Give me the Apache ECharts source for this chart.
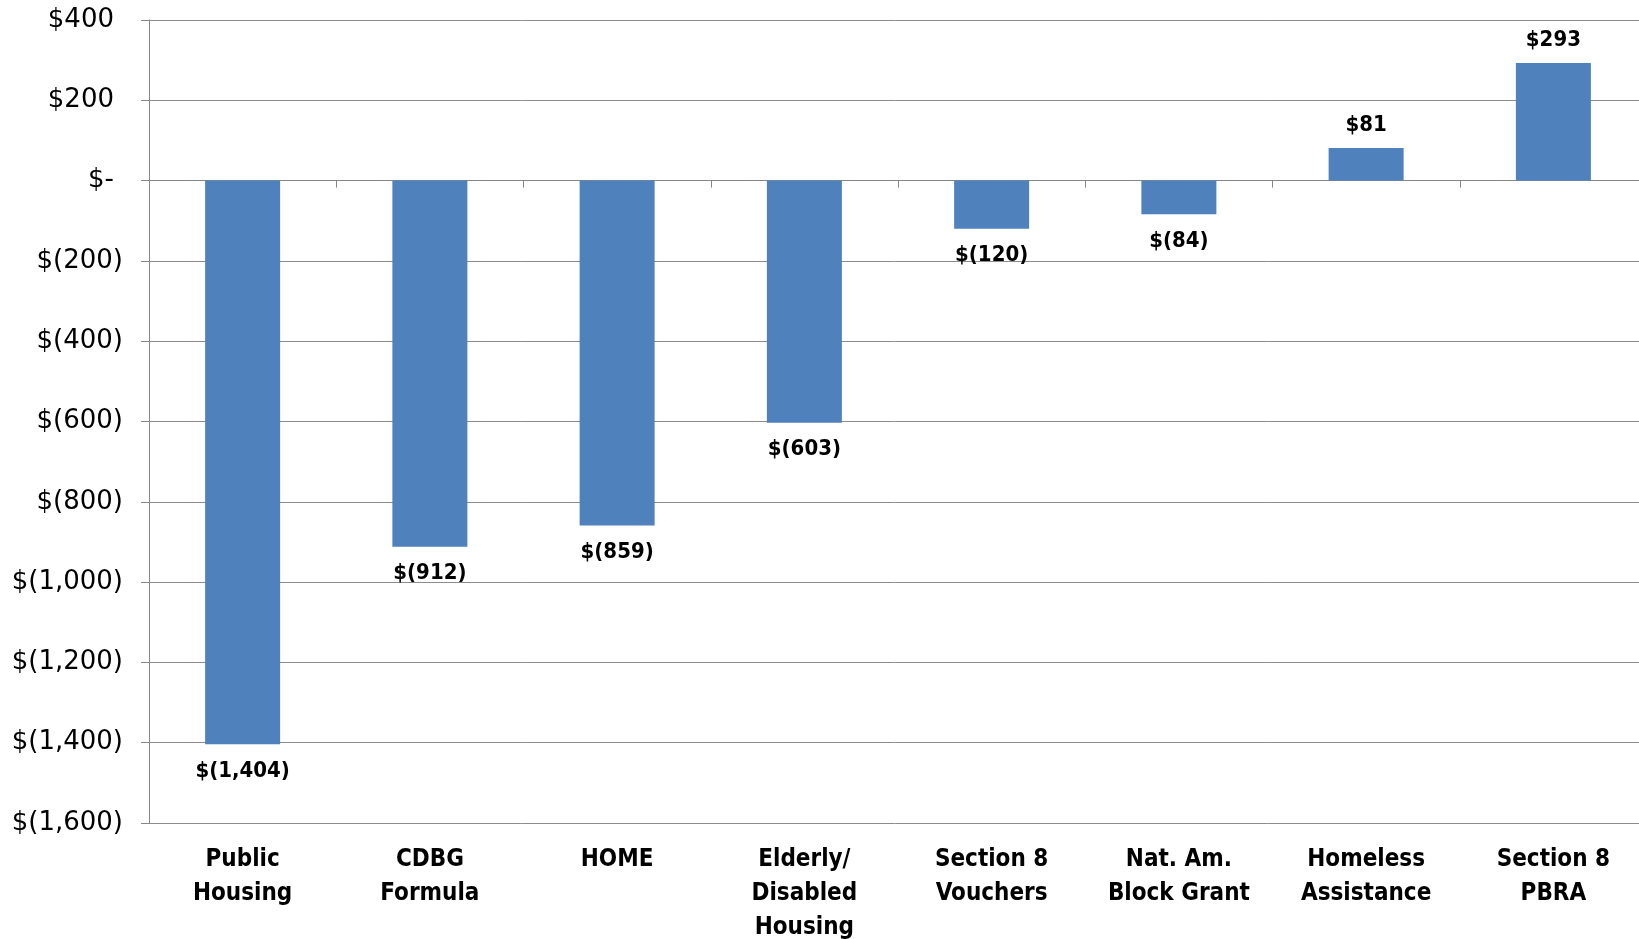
<!DOCTYPE html>
<html>
<head>
<meta charset="utf-8">
<script src="https://cdn.jsdelivr.net/npm/echarts@6/dist/echarts.min.js"></script>
<style>
  html, body { margin: 0; padding: 0; background: #ffffff; }
  #chart { width: 1639px; height: 939px; }
</style>
</head>
<body>
<div id="chart"></div>
<script>
// Program funding change ($ millions)
const categories = [
  'Public\nHousing',
  'CDBG\nFormula',
  'HOME',
  'Elderly/\nDisabled\nHousing',
  'Section 8\nVouchers',
  'Nat. Am.\nBlock Grant',
  'Homeless\nAssistance',
  'Section 8\nPBRA'
];
const changes = [-1404, -912, -859, -603, -120, -84, 81, 293];
const yTicks = { min: -1600, max: 400, interval: 200 };

const condensedBold = '"DejaVu Sans Condensed", "DejaVu Sans", sans-serif';
const tickFont = '"DejaVu Sans", sans-serif';

// Accounting-style dollar text: $1,234 / $(1,234) / $-
function money(v) {
  if (v === 0) return '$-';
  const s = Math.abs(v).toLocaleString('en-US');
  return v < 0 ? '$(' + s + ')' : '$' + s;
}

const chart = echarts.init(document.getElementById('chart'));
chart.setOption({
  animation: false,
  // the plot area runs slightly past the right edge of the canvas
  grid: { left: 149, top: 20, width: 1498, bottom: 116, containLabel: false, outerBoundsMode: 'none' },
  xAxis: [
    {
      // zero line with boundary ticks
      type: 'category',
      data: categories,
      axisLine: { onZero: true, lineStyle: { color: '#868686', width: 1 } },
      axisTick: { show: true, length: 7, lineStyle: { color: '#868686' } },
      axisLabel: { show: false }
    },
    {
      // category names under the plot floor
      type: 'category',
      data: categories,
      position: 'bottom',
      axisLine: { show: false, onZero: false },
      axisTick: { show: false },
      axisLabel: {
        show: true,
        interval: 0,
        margin: 20,
        color: '#000',
        fontFamily: condensedBold,
        fontWeight: 'bold',
        fontSize: 24,
        lineHeight: 34
      }
    }
  ],
  yAxis: {
    type: 'value',
    min: yTicks.min,
    max: yTicks.max,
    interval: yTicks.interval,
    axisLine: { show: true, lineStyle: { color: '#868686' } },
    axisTick: { show: true, length: 8, lineStyle: { color: '#868686' } },
    splitLine: { lineStyle: { color: '#8c8c8c', width: 1 } },
    axisLabel: {
      margin: 26,
      color: '#000',
      fontFamily: tickFont,
      fontSize: 26,
      formatter: function (v) {
        return v < 0 ? money(v) : '{p|' + money(v) + '}';
      },
      rich: {
        p: { fontFamily: tickFont, fontSize: 26, color: '#000', padding: [0, 9, 0, 0] }
      }
    }
  },
  series: [
    {
      type: 'bar',
      xAxisIndex: 0,
      data: changes.map(v => ({
        value: v,
        // negative bars carry their labels beneath the bar end
        label: v < 0 ? { position: 'bottom', distance: 16 } : { position: 'top', distance: 12 }
      })),
      barWidth: 75,
      itemStyle: { color: '#4f81bd' },
      label: {
        show: true,
        color: '#000',
        fontFamily: condensedBold,
        fontWeight: 'bold',
        fontSize: 22,
        formatter: function (p) { return money(p.value); }
      }
    }
  ]
});
</script>
</body>
</html>
